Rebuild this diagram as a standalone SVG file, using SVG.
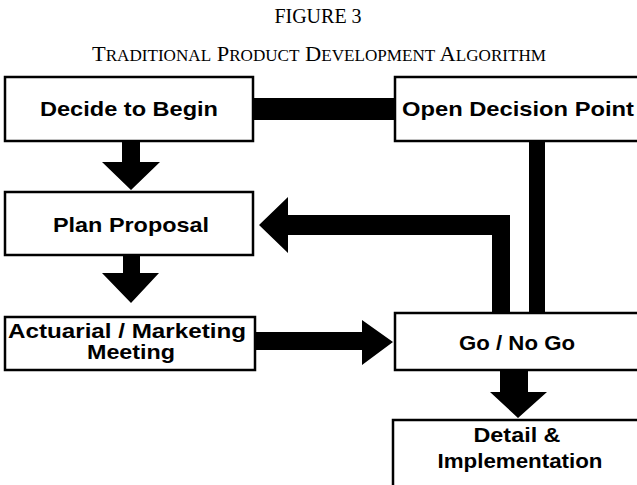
<svg xmlns="http://www.w3.org/2000/svg" width="637" height="485" viewBox="0 0 637 485">
<style>
.box{fill:#fff;stroke:#000;stroke-width:2.5}
.lbl{font-family:"Liberation Sans",Arial,sans-serif;font-weight:bold;font-size:21px;fill:#000;text-anchor:middle}
.ttl{font-family:"Liberation Serif","Times New Roman",serif;fill:#000}
.conn{fill:#000;stroke:none}
</style>
<rect width="637" height="485" fill="#fff"/>
<g id="title">
<text class="ttl" x="318" y="23" font-size="20" text-anchor="middle">FIGURE 3</text>
<text class="ttl" x="92" y="61" font-size="21" textLength="454" lengthAdjust="spacingAndGlyphs">T<tspan font-size="16">RADITIONAL</tspan> P<tspan font-size="16">RODUCT</tspan> D<tspan font-size="16">EVELOPMENT</tspan> A<tspan font-size="16">LGORITHM</tspan></text>
</g>
<g id="connectors">
<rect class="conn" x="253" y="98" width="142" height="22"/>
<path class="conn" d="M122,141 H140 V162 H160 L131,190 L102,162 H122 Z"/>
<path class="conn" d="M123,255 H140 V273 H159 L131,303 L102,273 H123 Z"/>
<path class="conn" d="M256,332 H362 V320 L393,342 L362,365 V350 H256 Z"/>
<rect class="conn" x="529" y="141" width="16" height="172"/>
<path class="conn" d="M510,313 V215 H288 V197 L259,225 L288,253 V235 H492 V313 Z"/>
<path class="conn" d="M500,370 H528 V392 H547 L518,418 L490,392 H500 Z"/>
</g>
<g id="decide">
<rect class="box" x="5" y="77" width="248" height="64"/>
<text class="lbl" x="129" y="116" textLength="178" lengthAdjust="spacingAndGlyphs">Decide to Begin</text>
</g>
<g id="open">
<rect class="box" x="395" y="77" width="250" height="64"/>
<text class="lbl" x="518" y="116" textLength="232" lengthAdjust="spacingAndGlyphs">Open Decision Point</text>
</g>
<g id="plan">
<rect class="box" x="5" y="192" width="248" height="63"/>
<text class="lbl" x="131" y="232" textLength="156" lengthAdjust="spacingAndGlyphs">Plan Proposal</text>
</g>
<g id="actuarial">
<rect class="box" x="5" y="317" width="250" height="53"/>
<text class="lbl" x="127" y="338" textLength="238" lengthAdjust="spacingAndGlyphs">Actuarial / Marketing</text>
<text class="lbl" x="131" y="359" textLength="88" lengthAdjust="spacingAndGlyphs">Meeting</text>
</g>
<g id="gonogo">
<rect class="box" x="395" y="313" width="250" height="57"/>
<text class="lbl" x="517" y="350" textLength="116" lengthAdjust="spacingAndGlyphs">Go / No Go</text>
</g>
<g id="detail">
<rect class="box" x="393" y="420" width="252" height="75"/>
<text class="lbl" x="517" y="442" textLength="87" lengthAdjust="spacingAndGlyphs">Detail &amp;</text>
<text class="lbl" x="520" y="468" textLength="165" lengthAdjust="spacingAndGlyphs">Implementation</text>
</g>
</svg>
